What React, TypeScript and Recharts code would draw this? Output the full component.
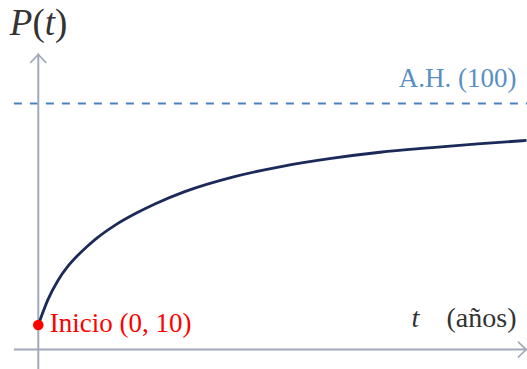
import { ComposedChart, Line, XAxis, YAxis, ReferenceLine, ReferenceDot } from 'recharts';

// population curve, P(t) per year t
const YEARS = [0, 1, 2, 3, 4, 5, 6, 8, 10, 12, 15, 20, 25, 30, 35, 40, 45, 50];
const POP = [10, 20.4, 28, 33.7, 38.1, 41.9, 45.3, 50.9, 55.4, 59.3, 64.2, 70.2, 74.5, 77.7, 80.2, 82, 83.6, 85];

const ASYMPTOTE = 100;
const START_T = 0;
const START_P = 10;

// axis extents in data units
const T_AXIS = [-2.5, 50];
const P_AXIS = [-8, 120];

const AXIS = '#a1a9b9';
const CURVE = '#1b2a58';
const DASH = '#4683c0';
const AH_TEXT = '#5a8fc4';
const RED = '#ff0000';
const FONT = '"Liberation Serif", "Times New Roman", serif';

const data = YEARS.map((t, i) => ({ t, p: POP[i] }));

function ArrowLine(props: any) {
  const { x1, y1, x2, y2 } = props;
  const deg = (Math.atan2(y2 - y1, x2 - x1) * 180) / Math.PI;
  return (
    <g>
      <line x1={x1} y1={y1} x2={x2} y2={y2} stroke={AXIS} strokeWidth={2} />
      <path
        d="M -8 -7.5 Q -2.5 -1.8 0 0 Q -2.5 1.8 -8 7.5"
        transform={`translate(${x2},${y2}) rotate(${deg})`}
        fill="none"
        stroke={AXIS}
        strokeWidth={1.7}
        strokeLinecap="round"
      />
    </g>
  );
}

export default function App() {
  return (
    <div style={{ position: 'absolute', left: 0, top: 0, background: '#fff' }}>
      <ComposedChart width={527} height={369} data={data} margin={{ top: 0, right: 0, bottom: 0, left: 0 }}>
        <XAxis type="number" dataKey="t" domain={[-3.92, 50.05]} hide allowDataOverflow />
        <YAxis type="number" domain={[-7.88, 142.06]} hide allowDataOverflow />

        <ReferenceLine
          segment={[{ x: T_AXIS[0], y: ASYMPTOTE }, { x: 50.05, y: ASYMPTOTE }]}
          stroke={DASH}
          strokeWidth={2}
          strokeDasharray="8 8"
          ifOverflow="visible"
          label={{
            content: ({ viewBox }: any) => (
              <text x={viewBox.x + viewBox.width - 10.5} y={viewBox.y - 17} textAnchor="end" fill={AH_TEXT} fontFamily={FONT} fontSize={27}>
                {`A.H. (${ASYMPTOTE})`}
              </text>
            ),
          }}
        />

        <ReferenceLine
          segment={[{ x: T_AXIS[0], y: 0 }, { x: T_AXIS[1], y: 0 }]}
          shape={ArrowLine}
          ifOverflow="visible"
          label={{
            content: ({ viewBox }: any) => {
              const right = viewBox.x + viewBox.width - 10;
              return (
                <g fontFamily={FONT} fontSize={28} fill="#333">
                  <text x={right - 105} y={viewBox.y - 23} fontStyle="italic">t</text>
                  <text x={right} y={viewBox.y - 23} textAnchor="end">(años)</text>
                </g>
              );
            },
          }}
        />

        <ReferenceLine
          segment={[{ x: 0, y: P_AXIS[0] }, { x: 0, y: P_AXIS[1] }]}
          shape={ArrowLine}
          ifOverflow="visible"
          label={{
            content: ({ viewBox }: any) => (
              <text x={viewBox.x - 28.5} y={viewBox.y - 19} fontFamily={FONT} fontSize={37} fill="#333">
                <tspan fontStyle="italic">P</tspan>
                <tspan>(</tspan>
                <tspan fontStyle="italic">t</tspan>
                <tspan>)</tspan>
              </text>
            ),
          }}
        />

        <Line
          type="monotone"
          dataKey="p"
          stroke={CURVE}
          strokeWidth={2.8}
          dot={false}
          activeDot={false}
          isAnimationActive={false}
        />

        <ReferenceDot
          x={START_T}
          y={START_P}
          r={5.3}
          fill={RED}
          stroke="none"
          ifOverflow="visible"
          label={{
            content: ({ viewBox }: any) => {
              const cx = viewBox.x + viewBox.width / 2;
              const cy = viewBox.y + viewBox.height / 2;
              return (
                <text x={cx + 11.5} y={cy + 7} fill={RED} fontFamily={FONT} fontSize={27}>
                  {`Inicio (${START_T}, ${START_P})`}
                </text>
              );
            },
          }}
        />
      </ComposedChart>
    </div>
  );
}
